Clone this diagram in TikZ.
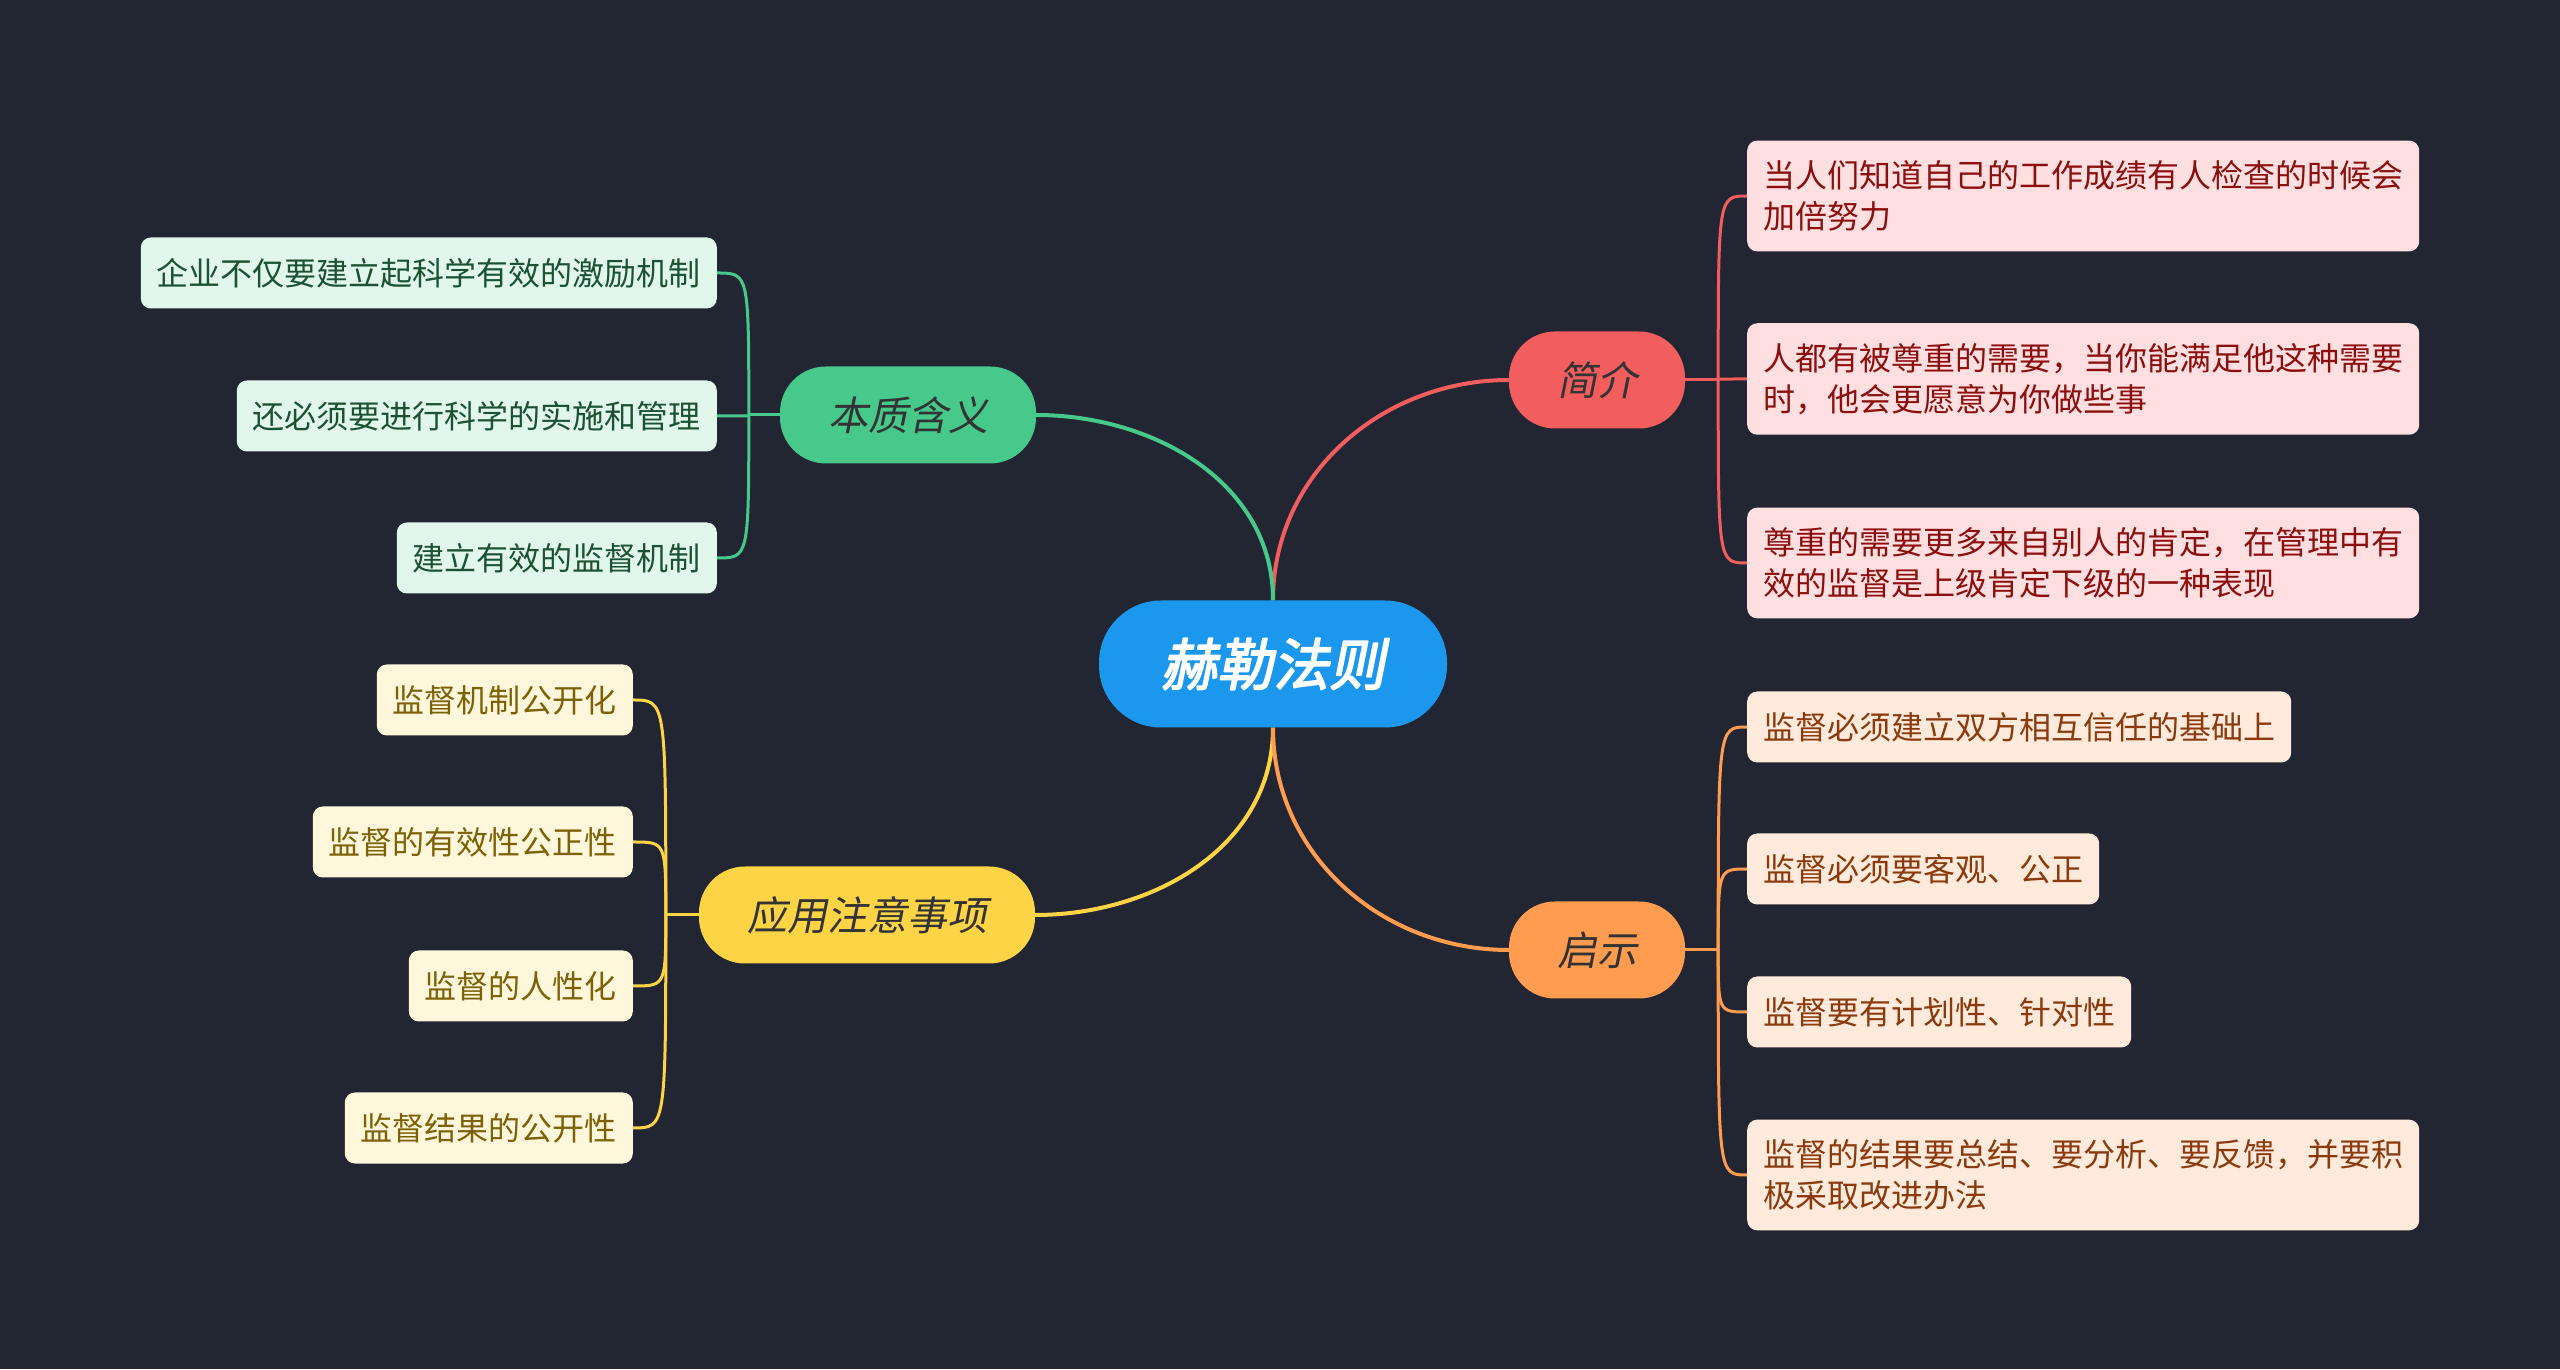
\documentclass[tikz,border=0pt]{standalone}
\usepackage{fontspec}
\newfontfamily\cjk{Noto Sans CJK SC}
\newfontfamily\cjksl[FakeSlant=0.2]{Noto Sans CJK SC}
\newfontfamily\cjkbf[FakeSlant=0.2,FakeBold=3]{Noto Sans CJK SC}
\usetikzlibrary{backgrounds}
\definecolor{bgc}{HTML}{222532}
\definecolor{rootc}{HTML}{1B98EE}
\definecolor{redc}{HTML}{F25D5D}
\definecolor{redleaf}{HTML}{FFDFE0}
\definecolor{redtxt}{HTML}{8C0F0F}
\definecolor{greenc}{HTML}{46C98A}
\definecolor{greenleaf}{HTML}{E1F7EC}
\definecolor{greentxt}{HTML}{1C5233}
\definecolor{yellowc}{HTML}{FDD446}
\definecolor{yellowleaf}{HTML}{FFF7DB}
\definecolor{yellowtxt}{HTML}{7D6106}
\definecolor{orangec}{HTML}{FF9C50}
\definecolor{orangeleaf}{HTML}{FFEADC}
\definecolor{orangetxt}{HTML}{8A3A0C}
\begin{document}
\begin{tikzpicture}[x=1pt,y=1pt,line cap=round,line join=round,
		rootnode/.style={fill=rootc,text=white,rounded corners=62pt,minimum height=127pt,inner xsep=62pt,font=\cjkbf\fontsize{56pt}{60pt}\selectfont},
		topic/.style={fill=#1,text=black!80,rounded corners=46pt,minimum height=97pt,inner xsep=48pt,font=\cjksl\fontsize{40pt}{44pt}\selectfont},
		leaf/.style 2 args={fill=#1,text=#2,rounded corners=10pt,minimum height=71pt,inner xsep=16pt,inner ysep=20pt,align=left,font=\cjk\fontsize{32pt}{41pt}\selectfont},
		branch/.style={draw=#1,line width=4pt},
		twig/.style={draw=#1,line width=3pt}]
	\useasboundingbox (0,0) rectangle (2560,1369);
	\node[rootnode] (root) at (1273,705) {赫勒法则};
	\node[topic=redc] (jianjie) at (1597,989) {简介};
	\node[topic=greenc] (benzhi) at (908,954) {本质含义};
	\node[topic=yellowc] (yingyong) at (867,454) {应用注意事项};
	\node[topic=orangec] (qishi) at (1597,419) {启示};
	\node[leaf={redleaf}{redtxt},anchor=west] (j1) at (1747,1173) {当人们知道自己的工作成绩有人检查的时候会\\加倍努力};
	\node[leaf={redleaf}{redtxt},anchor=west] (j2) at (1747,990) {人都有被尊重的需要，当你能满足他这种需要\\时，他会更愿意为你做些事};
	\node[leaf={redleaf}{redtxt},anchor=west] (j3) at (1747,806) {尊重的需要更多来自别人的肯定，在管理中有\\效的监督是上级肯定下级的一种表现};
	\node[leaf={orangeleaf}{orangetxt},anchor=west] (q1) at (1747,642) {监督必须建立双方相互信任的基础上};
	\node[leaf={orangeleaf}{orangetxt},anchor=west] (q2) at (1747,500) {监督必须要客观、公正};
	\node[leaf={orangeleaf}{orangetxt},anchor=west] (q3) at (1747,357) {监督要有计划性、针对性};
	\node[leaf={orangeleaf}{orangetxt},anchor=west] (q4) at (1747,194) {监督的结果要总结、要分析、要反馈，并要积\\极采取改进办法};
	\node[leaf={greenleaf}{greentxt},anchor=east] (b1) at (717,1096) {企业不仅要建立起科学有效的激励机制};
	\node[leaf={greenleaf}{greentxt},anchor=east] (b2) at (717,953) {还必须要进行科学的实施和管理};
	\node[leaf={greenleaf}{greentxt},anchor=east] (b3) at (717,811) {建立有效的监督机制};
	\node[leaf={yellowleaf}{yellowtxt},anchor=east] (y1) at (633,669) {监督机制公开化};
	\node[leaf={yellowleaf}{yellowtxt},anchor=east] (y2) at (633,527) {监督的有效性公正性};
	\node[leaf={yellowleaf}{yellowtxt},anchor=east] (y3) at (633,383) {监督的人性化};
	\node[leaf={yellowleaf}{yellowtxt},anchor=east] (y4) at (633,241) {监督结果的公开性};
	\coordinate (jjs) at ([xshift=33pt]jianjie.east);
	\coordinate (qss) at ([xshift=33pt]qishi.east);
	\coordinate (bzs) at ([xshift=-31pt]benzhi.west);
	\coordinate (yys) at ([xshift=-33pt]yingyong.west);
	\begin{scope}[on background layer]
		\fill[bgc] (0,0) rectangle (2560,1369);
		\path[branch=redc] (root.north) to[out=90,in=180] (jianjie.west);
		\path[branch=greenc] (root.north) to[out=90,in=0] (benzhi.east);
		\path[branch=yellowc] (root.south) to[out=-90,in=0] (yingyong.east);
		\path[branch=orangec] (root.south) to[out=-90,in=180] (qishi.west);
		\path[twig=redc] (jianjie.east) -- (jjs);
		\path[twig=orangec] (qishi.east) -- (qss);
		\path[twig=greenc] (benzhi.west) -- (bzs);
		\path[twig=yellowc] (yingyong.west) -- (yys);
		\foreach \n in {j1,j2,j3}
			\path[twig=redc] (jjs) .. controls (jjs |- \n.west) .. (\n.west);
		\foreach \n in {q1,q2,q3,q4}
			\path[twig=orangec] (qss) .. controls (qss |- \n.west) .. (\n.west);
		\foreach \n in {b1,b2,b3}
			\path[twig=greenc] (bzs) .. controls (bzs |- \n.east) .. (\n.east);
		\foreach \n in {y1,y2,y3,y4}
			\path[twig=yellowc] (yys) .. controls (yys |- \n.east) .. (\n.east);
	\end{scope}
\end{tikzpicture}
\end{document}
